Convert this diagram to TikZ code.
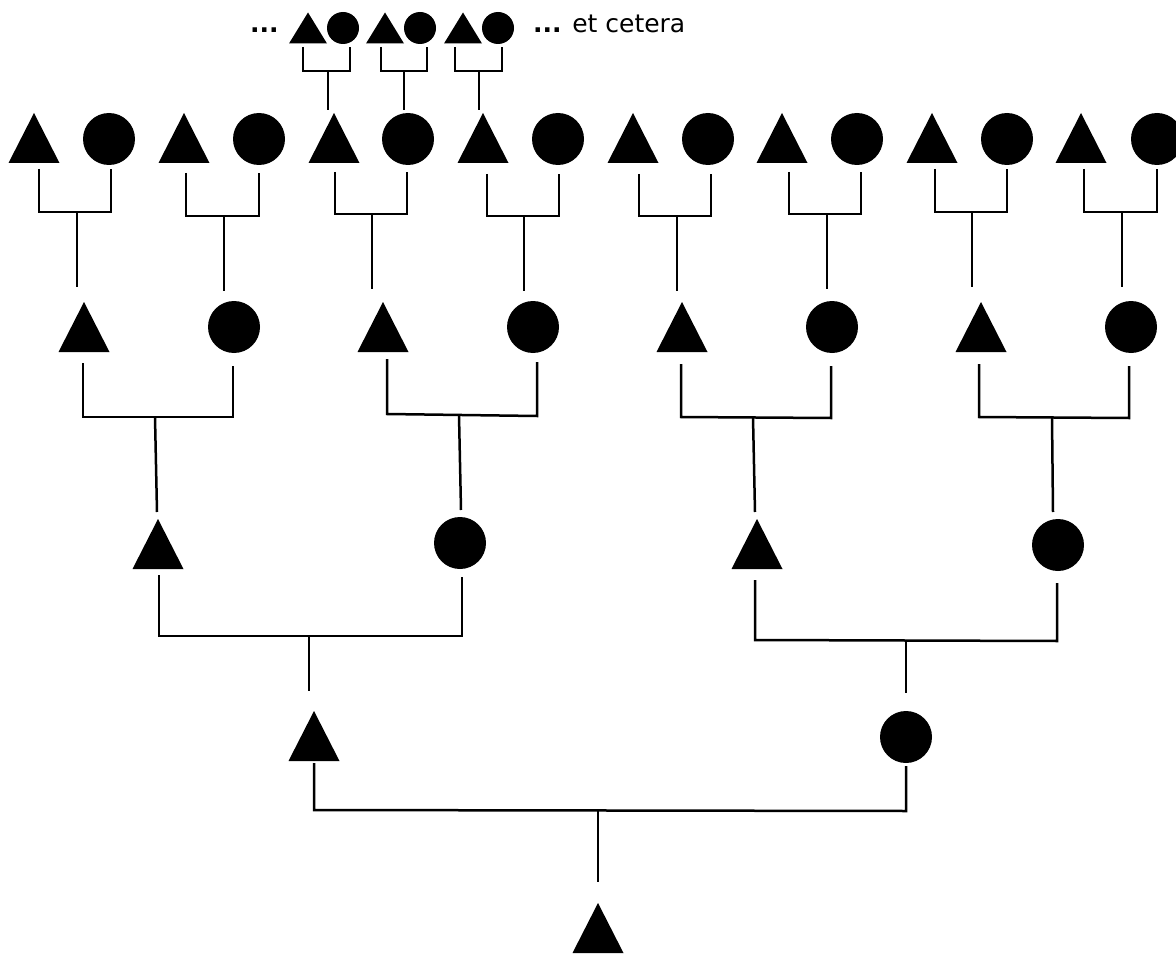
\documentclass[tikz,border=0pt]{standalone}
\usepackage{fontspec}
\setmainfont{DejaVu Sans}
\begin{document}
\begin{tikzpicture}[x=1pt,y=-1pt,
  line/.style={line width=2.5pt, line join=miter},
  tri/.style={rectangle, inner sep=0pt, minimum width=51pt, minimum height=50pt,
    path picture={\fill[black] (path picture bounding box.south west) -- (path picture bounding box.south east) -- (path picture bounding box.north) -- cycle;}},
  circ/.style={circle, fill=black, inner sep=0pt, minimum size=52pt},
  stri/.style={rectangle, inner sep=0pt, minimum width=38pt, minimum height=31pt,
    path picture={\fill[black] (path picture bounding box.south west) -- (path picture bounding box.south east) -- (path picture bounding box.north) -- cycle;}},
  scirc/.style={circle, fill=black, inner sep=0pt, minimum size=32pt},
  lbl/.style={inner sep=0pt, anchor=base west, font=\fontsize{25}{30}\selectfont}
]
\useasboundingbox (0,0) rectangle (1176,955);

% ---- top small row
\node[lbl] (dotsL) at (250,33) {\textbf{...}};
\node[stri] (s1t) at (308,28) {};
\node[scirc] (s1c) at (343,28) {};
\node[stri] (s2t) at (385,28) {};
\node[scirc] (s2c) at (420,28) {};
\node[stri] (s3t) at (463,28) {};
\node[scirc] (s3c) at (498,28) {};
\node[lbl] (etc) at (533,33) {\textbf{...} et cetera};

% ---- level 5
\node[tri]  (a1t) at (34,138) {};   \node[circ] (a1c) at (109,139) {};
\node[tri]  (a2t) at (184,138) {};  \node[circ] (a2c) at (259,139) {};
\node[tri]  (a3t) at (334,138) {};  \node[circ] (a3c) at (408,139) {};
\node[tri]  (a4t) at (483,138) {};  \node[circ] (a4c) at (558,139) {};
\node[tri]  (a5t) at (633,138) {};  \node[circ] (a5c) at (708,139) {};
\node[tri]  (a6t) at (782,138) {};  \node[circ] (a6c) at (857,139) {};
\node[tri]  (a7t) at (932,138) {};  \node[circ] (a7c) at (1007,139) {};
\node[tri]  (a8t) at (1081,138) {}; \node[circ] (a8c) at (1157,139) {};

% ---- level 4
\node[tri]  (b1t) at (84,327) {};  \node[circ] (b1c) at (234,327) {};
\node[tri]  (b2t) at (383,327) {}; \node[circ] (b2c) at (533,327) {};
\node[tri]  (b3t) at (682,327) {}; \node[circ] (b3c) at (832,327) {};
\node[tri]  (b4t) at (981,327) {}; \node[circ] (b4c) at (1131,327) {};

% ---- level 3
\node[tri]  (c1t) at (158,544) {}; \node[circ] (c1c) at (460,543) {};
\node[tri]  (c2t) at (757,544) {}; \node[circ] (c2c) at (1058,545) {};

% ---- level 2
\node[tri]  (d1t) at (314,736) {}; \node[circ] (d1c) at (906,737) {};

% ---- level 1
\node[tri]  (e1t) at (598,928) {};

% ---- brackets, top small row
\draw[line] (303,47) -- (303,71) -- (350,71) -- (350,47);  \draw[line] (328,71) -- (328,110);
\draw[line] (381,47) -- (381,71) -- (427,71) -- (427,47);  \draw[line] (404,71) -- (404,110);
\draw[line] (455,47) -- (455,71) -- (502,71) -- (502,47);  \draw[line] (479,71) -- (479,110);

% ---- brackets, level 5
\draw[line] (39,169) -- (39,212) -- (111,212) -- (111,169);     \draw[line] (77,212) -- (77,287);
\draw[line] (186,173) -- (186,216) -- (259,216) -- (259,173);   \draw[line] (224,216) -- (224,291);
\draw[line] (335,172) -- (335,214) -- (407,214) -- (407,172);   \draw[line] (372,214) -- (372,289);
\draw[line] (487,174) -- (487,216) -- (559,216) -- (559,174);   \draw[line] (524,216) -- (524,291);
\draw[line] (639,174) -- (639,216) -- (711,216) -- (711,174);   \draw[line] (677,216) -- (677,291);
\draw[line] (789,172) -- (789,214) -- (861,214) -- (861,172);   \draw[line] (827,214) -- (827,289);
\draw[line] (935,169) -- (935,212) -- (1007,212) -- (1007,169); \draw[line] (972,212) -- (972,287);
\draw[line] (1084,169) -- (1084,212) -- (1157,212) -- (1157,169); \draw[line] (1122,212) -- (1122,287);

% ---- brackets, level 4
\draw[line] (83,363) -- (83,417) -- (233,417) -- (233,366);     \draw[line] (155,417) -- (157,512);
\draw[line] (387,359) -- (387,414) -- (537,416) -- (537,362);   \draw[line] (459,415) -- (461,510);
\draw[line] (681,364) -- (681,417) -- (831,418) -- (831,366);   \draw[line] (753,417) -- (755,512);
\draw[line] (979,364) -- (979,417) -- (1129,418) -- (1129,366); \draw[line] (1052,417) -- (1053,512);

% ---- brackets, level 3
\draw[line] (159,575) -- (159,636) -- (462,636) -- (462,577);   \draw[line] (309,636) -- (309,691);
\draw[line] (755,580) -- (755,640) -- (1057,641) -- (1057,583); \draw[line] (906,640) -- (906,693);

% ---- bracket, level 2
\draw[line] (314,763) -- (314,810) -- (906,811) -- (906,766);   \draw[line] (598,810) -- (598,882);
\end{tikzpicture}
\end{document}
